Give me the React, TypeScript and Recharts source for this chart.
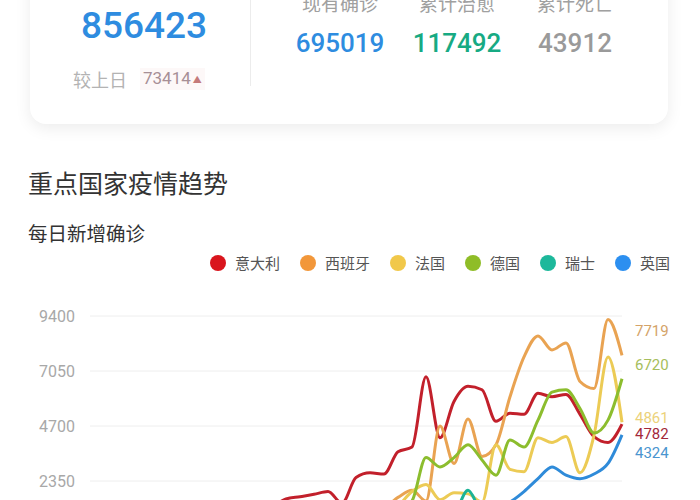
import React from 'react';
import { LineChart, Line, XAxis, YAxis, CartesianGrid, LabelList } from 'recharts';

const days = [
  '2/23', '2/24', '2/25', '2/26', '2/27', '2/28', '2/29',
  '3/1', '3/2', '3/3', '3/4', '3/5', '3/6', '3/7', '3/8', '3/9', '3/10', '3/11', '3/12', '3/13',
  '3/14', '3/15', '3/16', '3/17', '3/18', '3/19', '3/20', '3/21', '3/22', '3/23', '3/24', '3/25',
  '3/26', '3/27', '3/28', '3/29', '3/30', '3/31', '4/1',
];

const italy = [50, 90, 120, 250, 240, 190, 320, 450, 560, 590, 770, 780, 900, 1250, 1580, 1680, 1780, 1900, 1400, 2500, 2700, 2650, 3600, 3800, 6800, 4200, 5750, 6400, 6250, 4900, 5250, 5200, 6100, 5950, 6050, 5200, 4250, 4000, 4782];
const spain = [0, 0, 2, 6, 10, 15, 25, 30, 45, 60, 90, 130, 200, 300, 400, 560, 700, 900, 1100, 1250, 1300, 1250, 1650, 1950, 1500, 4700, 3100, 5000, 3400, 3900, 5950, 7650, 8550, 7950, 8250, 6600, 6300, 9250, 7719];
const france = [0, 0, 1, 2, 15, 20, 40, 60, 75, 100, 100, 140, 200, 230, 280, 380, 500, 600, 800, 900, 1000, 1100, 1300, 1900, 2200, 1550, 1850, 1800, 1450, 3900, 2850, 2750, 4200, 4000, 4250, 2700, 4300, 7650, 4861];
const germany = [0, 0, 0, 1, 2, 10, 20, 25, 30, 40, 70, 120, 150, 170, 270, 300, 400, 550, 800, 1000, 1200, 1400, 1100, 1500, 3350, 2950, 3350, 3900, 3250, 2600, 4100, 3800, 4950, 6150, 6250, 5450, 4400, 4950, 6720];
const switzerland = [0, 0, 0, 1, 5, 10, 5, 10, 15, 20, 30, 40, 60, 100, 130, 150, 200, 250, 280, 350, 400, 500, 600, 700, 800, 900, 1000, 1950, 1100, 1400, 1100, 1200, 1100, 1000, 1100, 1300, 1200, 1100, 1150];
const uk = [0, 0, 0, 2, 3, 5, 10, 15, 20, 30, 40, 50, 60, 60, 40, 70, 130, 200, 260, 300, 400, 600, 650, 700, 1000, 1000, 1100, 1000, 1300, 1150, 1450, 1900, 2450, 2950, 2600, 2450, 2650, 3100, 4324];

const yTicks = [0, 2350, 4700, 7050, 9400];

const summaryLabels = ['现有确诊', '累计治愈', '累计死亡'];
const summaryValues = ['695019', '117492', '43912'];
const totalValue = '856423';
const deltaValue = '73414';

const NUM = "Roboto, 'Noto Sans CJK SC', sans-serif";
const CJK = "'Noto Sans CJK SC', 'Noto Sans', sans-serif";

const series = [
  { key: 'italy', name: '意大利', values: italy, legend: '#d9151d', line: '#c2202b', label: '#a3283a', dy: 10, show: true },
  { key: 'spain', name: '西班牙', values: spain, legend: '#f2973a', line: '#e9a352', label: '#d4a368', dy: -24, show: true },
  { key: 'france', name: '法国', values: france, legend: '#f1c84a', line: '#eccb55', label: '#ecd27a', dy: -4, show: true },
  { key: 'germany', name: '德国', values: germany, legend: '#8fbd27', line: '#8cbd2e', label: '#a6be5c', dy: -14, show: true },
  { key: 'switzerland', name: '瑞士', values: switzerland, legend: '#1db89b', line: '#1bb396', label: '#1bb396', dy: 0, show: false },
  { key: 'uk', name: '英国', values: uk, legend: '#2c8ff0', line: '#2f8bd9', label: '#4a95cf', dy: 18, show: true },
];

const data = days.map((d, i) => {
  const row: Record<string, any> = { day: d };
  series.forEach((s) => { row[s.key] = s.values[i]; });
  return row;
});

const summaryColors = ['#2e8ce0', '#17aa83', '#9a9a9a'];
const summaryCenters = [340, 457, 575];

function endLabel(s: typeof series[number]) {
  return (p: any) => {
    if (!s.show || p.index !== days.length - 1) return null;
    return (
      <text x={p.x + 13} y={p.y + s.dy} fill={s.label} fontSize={15} fontFamily={NUM} dominantBaseline="central" textAnchor="start">
        {p.value}
      </text>
    );
  };
}

export default function App() {
  return (
    <div style={{ position: 'fixed', left: 0, top: 0, width: 700, height: 500, overflow: 'hidden', background: '#fff' }}>
      {/* summary card */}
      <div style={{ position: 'absolute', left: 30, top: -120, width: 638, height: 244, background: '#fff', borderRadius: 16, boxShadow: '0 4px 16px rgba(0,0,0,0.08)' }} />
      <div style={{ position: 'absolute', left: 44, top: 6, width: 200, textAlign: 'center', fontFamily: NUM, fontSize: 37, lineHeight: '40px', fontWeight: 500, color: '#2e8ce0' }}>{totalValue}</div>
      <div style={{ position: 'absolute', left: 73, top: 69, fontFamily: CJK, fontSize: 18, lineHeight: '20px', color: '#b3b3b3' }}>较上日</div>
      <div style={{ position: 'absolute', left: 140, top: 68, padding: '0 3px', fontFamily: NUM, fontSize: 17, lineHeight: '20px', color: '#a78f96', background: '#fdf8f8' }}>
        {deltaValue}<span style={{ fontSize: 9, marginLeft: 2, verticalAlign: 'middle', color: '#c47a7a' }}>▲</span>
      </div>
      <div style={{ position: 'absolute', left: 250, top: 0, width: 1, height: 86, background: '#ececec' }} />
      {summaryLabels.map((t, i) => (
        <div key={t} style={{ position: 'absolute', left: summaryCenters[i] - 60, width: 120, top: -8, textAlign: 'center', fontFamily: CJK, fontSize: 19, lineHeight: '22px', color: '#a0a0a0' }}>{t}</div>
      ))}
      {summaryValues.map((t, i) => (
        <div key={t} style={{ position: 'absolute', left: summaryCenters[i] - 60, width: 120, top: 29, textAlign: 'center', fontFamily: NUM, fontSize: 26, lineHeight: '28px', fontWeight: 500, color: summaryColors[i] }}>{t}</div>
      ))}

      {/* titles */}
      <div style={{ position: 'absolute', left: 28, top: 167, fontFamily: CJK, fontSize: 25, lineHeight: '30px', color: '#333' }}>重点国家疫情趋势</div>
      <div style={{ position: 'absolute', left: 28, top: 221, fontFamily: CJK, fontSize: 19.5, lineHeight: '24px', color: '#333' }}>每日新增确诊</div>

      {/* legend */}
      <div style={{ position: 'absolute', right: 30, top: 253, height: 20, display: 'flex', alignItems: 'center', gap: 20 }}>
        {series.map((s) => (
          <div key={s.key} style={{ display: 'flex', alignItems: 'center' }}>
            <span style={{ width: 16, height: 16, borderRadius: 8, background: s.legend, display: 'inline-block', marginRight: 9 }} />
            <span style={{ fontFamily: CJK, fontSize: 15, lineHeight: '20px', color: '#555' }}>{s.name}</span>
          </div>
        ))}
      </div>

      {/* chart */}
      <div style={{ position: 'absolute', left: 0, top: 300 }}>
        <LineChart width={700} height={260} data={data} margin={{ top: 16, right: 78, bottom: 24, left: 0 }}>
          <CartesianGrid vertical={false} stroke="#eeeeee" />
          <XAxis dataKey="day" hide />
          <YAxis domain={[0, 9400]} ticks={yTicks} interval={0} axisLine={false} tickLine={false} width={90} tickMargin={9}
            tick={{ fill: '#a8a8a8', fontSize: 16, fontFamily: NUM }} />
          {series.map((s) => (
            <Line key={s.key} dataKey={s.key} type="monotone" stroke={s.line} strokeWidth={3} dot={false} activeDot={false} isAnimationActive={false}>
              <LabelList dataKey={s.key} content={endLabel(s)} />
            </Line>
          ))}
        </LineChart>
      </div>
    </div>
  );
}
